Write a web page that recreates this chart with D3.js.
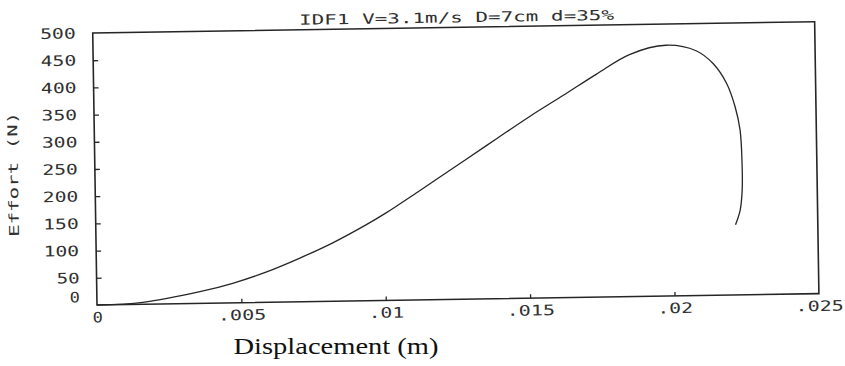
<!DOCTYPE html>
<html>
<head>
<meta charset="utf-8">
<script src="https://cdn.jsdelivr.net/npm/d3@7"></script>
<style>
  html, body { margin: 0; padding: 0; background: #fff; }
  svg { display: block; }
</style>
</head>
<body>
<svg id="chart" width="845" height="366"></svg>
<script>
// ---- data ----
const titleText = "IDF1 V=3.1m/s D=7cm d=35%";
const xLabel = "Displacement (m)";
const yLabel = "Effort (N)";
const displacement = [0, 0.00159, 0.00357, 0.00471, 0.00589, 0.00703, 0.00818, 0.00934, 0.01003, 0.01118,
  0.0128, 0.01395, 0.01511, 0.01626, 0.01742, 0.01857, 0.01984, 0.02088, 0.02146,
  0.02192, 0.0222, 0.02236, 0.02241, 0.0224, 0.02232, 0.02215];
const effort = [0, 3.6, 21.5, 36, 56, 80, 107, 139, 160, 199,
  255, 295, 335, 372, 410, 445, 461, 450, 426,
  389, 346, 303, 242, 193, 156, 129];
const xTicks = [0, 0.005, 0.01, 0.015, 0.02, 0.025];
const xTickLabels = ["0", ".005", ".01", ".015", ".02", ".025"];
const yTicks = [0, 50, 100, 150, 200, 250, 300, 350, 400, 450, 500];
const yTickLabels = ["0", "50", "100", "150", "200", "250", "300", "350", "400", "450", "500"];

// ---- layout ----
const mLeft = 97, mTop = 33, plotW = 722, plotH = 272;
const ink = "#262626";
const textInk = "#303030";
const font = "'DejaVu Sans Mono', monospace";
const cell = 12.7;

const svg = d3.select("#chart");
svg.append("rect").attr("width", 845).attr("height", 366).attr("fill", "#fff");

// stretch plotter-style text horizontally so each character takes ~cell px
function stretch(node, prefix) {
  const s = d3.select(node);
  const n = node.textContent.length;
  const nat = node.getComputedTextLength();
  const sx = (n * cell - 2.5) / nat;
  const tx = +(s.attr("x") || 0), ty = +(s.attr("y") || 0);
  s.attr("x", 0).attr("y", 0)
   .attr("transform", `${prefix || ""} translate(${tx},${ty}) scale(${sx},1)`);
}

// scanned page is slightly rotated
const g = svg.append("g")
  .attr("transform", `rotate(-0.9, ${mLeft}, ${mTop + plotH}) translate(${mLeft},${mTop})`);

const x = d3.scaleLinear().domain([0, 0.025]).range([0, plotW]);
const y = d3.scaleLinear().domain([0, 500]).range([plotH, 0]);

// frame
g.append("rect").attr("x", 0).attr("y", 0).attr("width", plotW).attr("height", plotH)
  .attr("fill", "none").attr("stroke", ink).attr("stroke-width", 1.6);

// axes
const xAxis = d3.axisBottom(x).tickValues(xTicks)
  .tickFormat((d, i) => xTickLabels[i]).tickSizeInner(-4).tickSizeOuter(0).tickPadding(7);
const yAxis = d3.axisLeft(y).tickValues(yTicks)
  .tickFormat((d, i) => yTickLabels[i]).tickSizeInner(-5).tickSizeOuter(0).tickPadding(17);

const gx = g.append("g").attr("transform", `translate(0,${plotH})`).call(xAxis);
const gy = g.append("g").call(yAxis);
// remove corner ticks
gx.selectAll(".tick line").filter(d => d === 0 || d === 0.025).remove();
gy.selectAll(".tick line").filter(d => d === 0 || d === 500).remove();
// zero label sits a little above the axis
gy.selectAll(".tick text").filter(d => d === 0).attr("y", -8);
[gx, gy].forEach(a => {
  a.select(".domain").remove();
  a.selectAll(".tick line").attr("stroke", ink).attr("stroke-width", 1.3);
  a.selectAll(".tick text")
    .attr("fill", textInk)
    .style("font-family", font)
    .style("font-size", "14.5px")
    .each(function() { stretch(this); });
});

// curve
const pts = displacement.map((d, i) => [d, effort[i]]);
g.append("path")
  .datum(pts)
  .attr("fill", "none")
  .attr("stroke", ink)
  .attr("stroke-width", 1.3)
  .attr("stroke-linejoin", "round")
  .attr("d", d3.line().x(p => x(p[0])).y(p => y(p[1])).curve(d3.curveCatmullRom.alpha(0.5)));

// title
const t = g.append("text")
  .attr("x", plotW / 2 + 3).attr("y", -5)
  .attr("text-anchor", "middle")
  .attr("fill", textInk)
  .style("font-family", font)
  .style("font-size", "14px")
  .text(titleText);
stretch(t.node());

// y label
const yl = g.append("text")
  .attr("text-anchor", "middle")
  .attr("fill", textInk)
  .style("font-family", font)
  .style("font-size", "13.5px")
  .text(yLabel);
{
  const node = yl.node();
  const sx = 125 / node.getComputedTextLength();
  yl.attr("transform", `translate(${20 - mLeft},${173 - mTop}) rotate(-90) scale(${sx},1)`);
}

// x label (typed, not rotated)
svg.append("text")
  .attr("x", 336).attr("y", 354)
  .attr("text-anchor", "middle")
  .attr("fill", "#111")
  .style("font-family", "'Liberation Serif', 'Times New Roman', serif")
  .style("font-size", "23px")
  .attr("lengthAdjust", "spacingAndGlyphs")
  .attr("textLength", 205)
  .text(xLabel);
</script>
</body>
</html>
